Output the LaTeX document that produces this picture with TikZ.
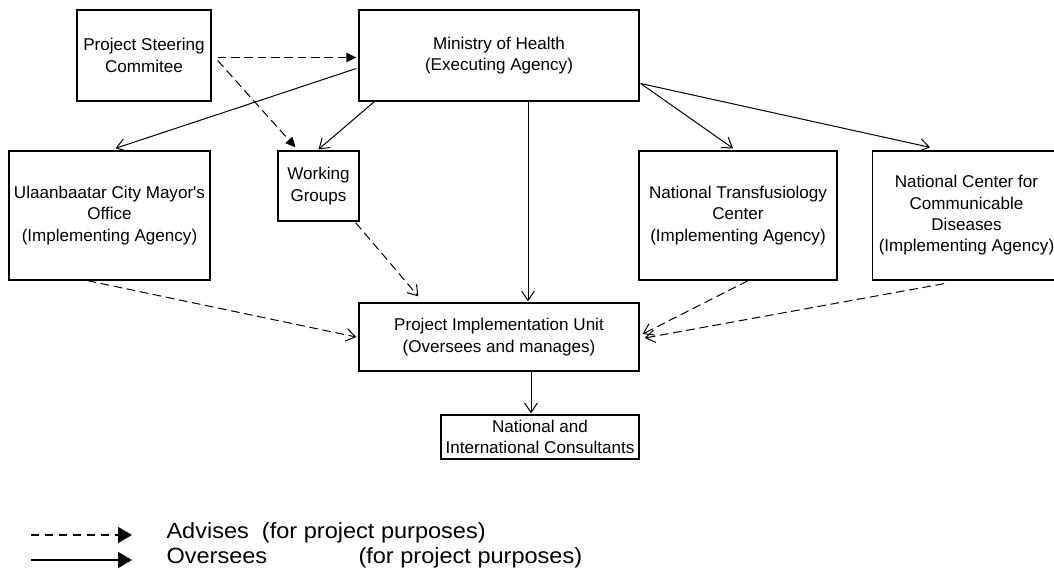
\documentclass[tikz,border=0pt]{standalone}
\usepackage{fontspec}
\setmainfont{Liberation Sans}
\usetikzlibrary{arrows.meta,calc}

\newcommand\straightquote{{\XeTeXglyph\XeTeXglyphindex "quotesingle"\relax}}

\tikzset{every picture/.style={line width=0.75pt}}
\tikzset{
  unitbox/.style 2 args={draw, line width=1pt, inner sep=0pt, align=center,
    minimum width=#1*0.75pt, minimum height=#2*0.75pt,
    font=\fontsize{12.8}{16}\selectfont},
  oversee/.style={-{Straight Barb[length=7pt,width=9.5pt]}},
  advise/.style={dash pattern=on 6.5pt off 3.5pt, -{Straight Barb[length=7pt,width=9.5pt]}},
  steer/.style={dash pattern=on 6.5pt off 3.5pt, -{Triangle[length=7.5pt,width=7pt]}},
  keytext/.style={anchor=base west, inner sep=0pt, font=\fontsize{16.5}{18}\selectfont},
}

\begin{document}
\begin{tikzpicture}[x=0.75pt,y=0.75pt,yscale=-1,xscale=1]
	\useasboundingbox (0,0) rectangle (1054,569);

	%Boxes
	\node[unitbox={134}{91}] (psc) at (144,55.5) {Project Steering\\Commitee};
	\node[unitbox={280}{91}] (moh) at (499,55.5) {Ministry of Health\\(Executing Agency)};
	\node[unitbox={201}{129}] (ulb) at (109.5,215.5) {Ulaanbaatar City Mayor\straightquote s\\Office\\(Implementing Agency)};
	\node[unitbox={81}{70}] (wg) at (318.5,186) {Working\\Groups};
	\node[unitbox={198}{129}] (ntc) at (738,215.5) {National Transfusiology\\Center\\(Implementing Agency)};
	\node[unitbox={188}{129}] (nccd) at (966.5,215.5) {National Center for\\Communicable\\Diseases\\(Implementing Agency)};
	\node[unitbox={280}{68}] (piu) at (499,337) {Project Implementation Unit\\(Oversees and manages)};
	\node[unitbox={198}{44}] (cons) at (540,437) {National and\\International Consultants};

	%Steering committee advises
	\draw[steer] ($(psc.east)+(6,2)$) -- ($(moh.west)+(-2,2)$);
	\draw[steer] ($(psc.east)+(6,5)$) -- ($(wg.north)+(-23,-3)$);

	%Ministry oversees
	\draw[oversee] ($(moh.west)+(-2,13)$) -- ($(ulb.north)+(6,-2)$);
	\draw[oversee] ($(moh.south west)+(16,0)$) -- ($(wg.north)+(0,-1)$);
	\draw[oversee] ($(moh.south)+(29,0)$) -- ($(piu.north)+(29,-1)$);
	\draw[oversee] ($(moh.east)+(1,28)$) -- ($(ntc.north)+(-5,-2)$);
	\draw[oversee] ($(moh.east)+(1,28)$) -- ($(nccd.north)+(-36.5,-3)$);

	%Agencies advise the unit
	\draw[advise] ($(ulb.south)+(-22,0)$) -- ($(piu.west)+(-2,0)$);
	\draw[advise] ($(wg.south east)+(-4,1)$) -- ($(piu.north west)+(60,-6)$);
	\draw[advise] ($(ntc.south)+(10,0)$) -- ($(piu.east)+(3,-3)$);
	\draw[advise] ($(nccd.south)+(-22.5,3)$) -- ($(piu.east)+(5,1)$);

	\draw[oversee] ($(piu.south)+(32,0)$) -- ($(cons.north)+(-9,-1)$);

	%Legend
	\coordinate (advA) at (31,535);
	\coordinate (advB) at (132,535);
	\coordinate (ovsA) at (31,560);
	\coordinate (ovsB) at (132,560);
	\draw[line width=1.1pt, dash pattern=on 6pt off 4.5pt, -{Triangle[length=10.5pt,width=12pt]}] (advA) -- (advB);
	\draw[line width=1.5pt, -{Triangle[length=10.5pt,width=12pt]}] (ovsA) -- (ovsB);
	\node[keytext] (advtxt) at (166,538) {\scalebox{1.07}[1]{Advises~~(for project purposes)}};
	\node[keytext] (ovstxt) at (166,563) {\makebox[144pt][l]{\scalebox{1.07}[1]{Oversees}}\scalebox{1.07}[1]{(for project purposes)}};

\end{tikzpicture}
\end{document}
